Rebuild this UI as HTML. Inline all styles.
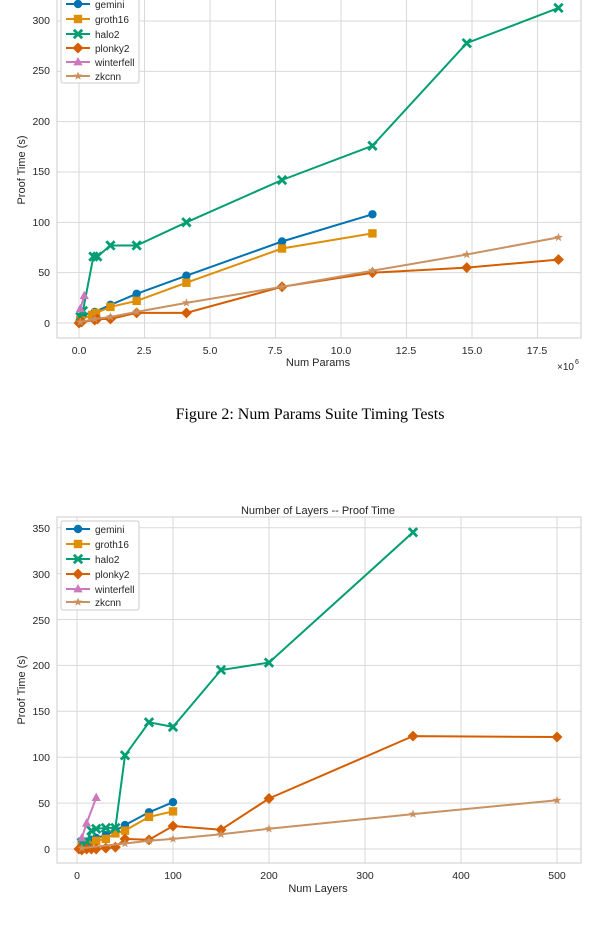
<!DOCTYPE html>
<html><head><meta charset="utf-8"><style>
html,body{margin:0;padding:0;background:#fff;width:600px;height:928px;overflow:hidden}
svg text{font-family:"Liberation Sans",sans-serif;fill:#262626}
</style></head><body>
<svg id="s" width="600" height="928" viewBox="0 0 600 928" xmlns="http://www.w3.org/2000/svg">
<g id="g1"></g><g id="g2"></g>
<g font-size="10.5" text-anchor="end">
<text x="50" y="24">300</text><text x="50" y="74">250</text><text x="50" y="125">200</text><text x="50" y="175">150</text><text x="50" y="226">100</text><text x="50" y="276">50</text><text x="50" y="327">0</text>
</g>
<g font-size="10.5" text-anchor="middle">
<text x="79" y="354">0.0</text><text x="144" y="354">2.5</text><text x="210" y="354">5.0</text><text x="275" y="354">7.5</text><text x="341" y="354">10.0</text><text x="406" y="354">12.5</text><text x="472" y="354">15.0</text><text x="537" y="354">17.5</text>
<text x="318" y="366" font-size="11">Num Params</text>
</g>
<text x="557" y="370" font-size="10">×10</text><text x="575" y="364" font-size="7">6</text>
<text transform="translate(25,170) rotate(-90)" font-size="11" text-anchor="middle">Proof Time (s)</text>
<text x="310" y="419" font-size="16" text-anchor="middle" style="font-family:'Liberation Serif',serif;fill:#000">Figure 2: Num Params Suite Timing Tests</text>
<text x="318" y="514" font-size="11" text-anchor="middle">Number of Layers -- Proof Time</text>
<g font-size="10.5" text-anchor="end">
<text x="50" y="532">350</text><text x="50" y="578">300</text><text x="50" y="624">250</text><text x="50" y="669">200</text><text x="50" y="715">150</text><text x="50" y="761">100</text><text x="50" y="807">50</text><text x="50" y="853">0</text>
</g>
<g font-size="10.5" text-anchor="middle">
<text x="77" y="879">0</text><text x="173" y="879">100</text><text x="269" y="879">200</text><text x="365" y="879">300</text><text x="461" y="879">400</text><text x="557" y="879">500</text>
<text x="318" y="892" font-size="11">Num Layers</text>
</g>
<text transform="translate(25,690) rotate(-90)" font-size="11" text-anchor="middle">Proof Time (s)</text>
<g font-size="10">
<rect x="61" y="-3" width="78" height="86" fill="#fff" stroke="#ccc" rx="2"/>
<text x="95" y="8">gemini</text><text x="95" y="23">groth16</text><text x="95" y="38">halo2</text><text x="95" y="52">plonky2</text><text x="95" y="66">winterfell</text><text x="95" y="80">zkcnn</text>
<rect x="61" y="521" width="78" height="89" fill="#fff" stroke="#ccc" rx="2"/>
<text x="95" y="533">gemini</text><text x="95" y="548">groth16</text><text x="95" y="563">halo2</text><text x="95" y="578">plonky2</text><text x="95" y="593">winterfell</text><text x="95" y="606">zkcnn</text>
</g>
<g id="leg"></g>
</svg>
<script>
const NS="http://www.w3.org/2000/svg";
const C=["#0173b2","#de8f05","#029e73","#d55e00","#cc78bc","#ca9161"];
const M=["o","s","x","d","^","*"];
function el(p,t,a){const e=document.createElementNS(NS,t);for(const k in a)e.setAttribute(k,a[k]);p.appendChild(e);return e;}
function marker(g,m,x,y,c,r){
 if(m=="o")el(g,"circle",{cx:x,cy:y,r:r,fill:c});
 else if(m=="s")el(g,"rect",{x:x-r,y:y-r,width:2*r,height:2*r,fill:c});
 else if(m=="d")el(g,"polygon",{points:`${x},${y-r*1.3} ${x+r*1.3},${y} ${x},${y+r*1.3} ${x-r*1.3},${y}`,fill:c});
 else if(m=="^")el(g,"polygon",{points:`${x},${y-r*1.2} ${x+r*1.1},${y+r*0.8} ${x-r*1.1},${y+r*0.8}`,fill:c});
 else if(m=="x"){el(g,"path",{d:`M${x-r} ${y-r}L${x+r} ${y+r}M${x-r} ${y+r}L${x+r} ${y-r}`,stroke:c,"stroke-width":2.8});}
 else if(m=="*"){let p=[];for(let i=0;i<10;i++){const a=-Math.PI/2+i*Math.PI/5,rr=i%2?r*0.45:r*1.1;p.push((x+rr*Math.cos(a)).toFixed(1)+","+(y+rr*Math.sin(a)).toFixed(1));}el(g,"polygon",{points:p.join(" "),fill:c});}
}
function chart(g,frame,xt,yt,fx,fy,data){
 xt.forEach(v=>el(g,"line",{x1:fx(v),x2:fx(v),y1:frame[1],y2:frame[3],stroke:"#d9d9d9","stroke-width":1}));
 yt.forEach(v=>el(g,"line",{x1:frame[0],x2:frame[2],y1:fy(v),y2:fy(v),stroke:"#d9d9d9","stroke-width":1}));
 el(g,"rect",{x:frame[0],y:frame[1],width:frame[2]-frame[0],height:frame[3]-frame[1],fill:"none",stroke:"#ccc"});
 data.forEach((d,i)=>{
  const pts=d.map(p=>fx(p[0]).toFixed(1)+","+fy(p[1]).toFixed(1)).join(" ");
  el(g,"polyline",{points:pts,fill:"none",stroke:C[i],"stroke-width":2});
  d.forEach(p=>marker(g,M[i],fx(p[0]),fy(p[1]),C[i],4.2));
 });
}
const d1=[
[[0.05,5],[0.15,8],[0.6,11],[1.2,18],[2.2,29],[4.1,47],[7.75,81],[11.2,108]],
[[0.05,3],[0.5,8],[0.65,10],[1.2,16],[2.2,22],[4.1,40],[7.75,74],[11.2,89]],
[[0.05,6],[0.15,12],[0.55,66],[0.7,66],[1.2,77],[2.2,77],[4.1,100],[7.75,142],[11.2,176],[14.8,278],[18.3,313]],
[[0.0,0],[0.1,1],[0.6,3],[0.7,4],[1.2,4],[2.2,10],[4.1,10],[7.75,36],[11.2,50],[14.8,55],[18.3,63]],
[[0.05,14],[0.2,27]],
[[0.05,1],[0.6,4],[1.2,6],[2.2,11],[4.1,20],[7.75,36],[11.2,52],[14.8,68],[18.3,85]]];
chart(document.getElementById("g1"),[57,-5,581,338],[0,2.5,5,7.5,10,12.5,15,17.5],[0,50,100,150,200,250,300],x=>79+x*26.2,v=>323-1.0067*v,d1);
const d2=[
[[5,9],[10,8],[15,10],[20,12],[30,15],[40,20],[50,26],[75,40],[100,51]],
[[5,3],[10,5],[20,9],[30,11],[40,17],[50,20],[75,35],[100,41]],
[[5,7],[10,8],[15,20],[20,22],[30,23],[40,23],[50,102],[75,138],[100,133],[150,195],[200,203],[350,345]],
[[2,0],[5,-1],[10,0],[15,0],[20,0],[30,1],[40,2],[50,11],[75,10],[100,25],[150,21],[200,55],[350,123],[500,122]],
[[5,12],[10,28],[20,56]],
[[5,1],[50,6],[75,9],[100,11],[150,16],[200,22],[350,38],[500,53]]];
chart(document.getElementById("g2"),[57,517,581,863],[0,100,200,300,400,500],[0,50,100,150,200,250,300,350],x=>77+x*0.96,v=>849-0.918*v,d2);
const lg=document.getElementById("leg");
[[4,19,34,48,62,76],[529,544,559,574,589,602]].forEach(ys=>ys.forEach((y,i)=>{
 el(lg,"line",{x1:66,x2:90,y1:y,y2:y,stroke:C[i],"stroke-width":2});marker(lg,M[i],78,y,C[i],4.2);}));
</script>
</body></html>
